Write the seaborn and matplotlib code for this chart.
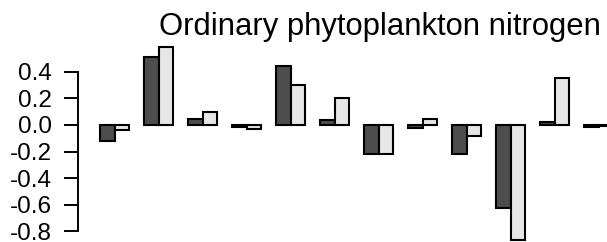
import matplotlib
matplotlib.use("Agg")
import matplotlib.pyplot as plt
import seaborn as sns
import pandas as pd

groups = [f"G{i+1}" for i in range(12)]
series_names = ["Dark", "Light"]
dark_values = [-0.118, 0.509, 0.045, -0.016, 0.44, 0.037, -0.218, -0.02, -0.218, -0.626, 0.025, -0.015]
light_values = [-0.038, 0.589, 0.10, -0.03, 0.30, 0.20, -0.218, 0.043, -0.083, -0.867, 0.356, -0.005]
ytick_values = [-0.8, -0.6, -0.4, -0.2, 0.0, 0.2, 0.4]
title_text = "Ordinary phytoplankton nitrogen"

df = pd.DataFrame({
    "group": groups * 2,
    "series": [series_names[0]] * len(groups) + [series_names[1]] * len(groups),
    "value": dark_values + light_values,
})

sns.set_style("white")
plt.rcParams["font.family"] = ["Liberation Sans", "DejaVu Sans"]
plt.rcParams["axes.unicode_minus"] = False
plt.rcParams["text.color"] = "black"
plt.rcParams["ytick.color"] = "black"
plt.rcParams["ytick.labelcolor"] = "black"

W, H = 607, 242
fig = plt.figure(figsize=(W / 100, H / 100), dpi=100)
ax_left = 77.7
ax_top = 38.95
ax_bottom = 248.0
ax = fig.add_axes([ax_left / W, (H - ax_bottom) / H, (W - ax_left) / W, (ax_bottom - ax_top) / H])

sns.barplot(data=df, x="group", y="value", hue="series", order=groups,
            hue_order=series_names, palette=["#4d4d4d", "#e6e6e6"],
            width=2 / 3, edgecolor="black", linewidth=1.5, legend=False, ax=ax,
            errorbar=None)

ax.set_ylim(-0.925, 0.647)
ax.set_xlim(-0.841, (W - 114.67) / 44)
ax.set_yticks(ytick_values)
ax.set_yticklabels([f"{v:.1f}" for v in ytick_values], fontsize=17.5, color="black")
ax.tick_params(axis="y", length=10, width=1.4, pad=8.5, left=True, color="black",
               labelcolor="black")
ax.set_xticks([])
ax.set_xlabel("")
ax.set_ylabel("")
for s in ["top", "right", "bottom"]:
    ax.spines[s].set_visible(False)
ax.spines["left"].set_bounds(-0.8, 0.4)
ax.spines["left"].set_linewidth(1.4)
ax.spines["left"].set_color("black")
ax.patch.set_alpha(0)

fig.text(379.5 / W, 1 - 35 / H, title_text, ha="center", va="baseline",
         fontsize=22.3, color="black")

fig.savefig("out.png", dpi=100)
